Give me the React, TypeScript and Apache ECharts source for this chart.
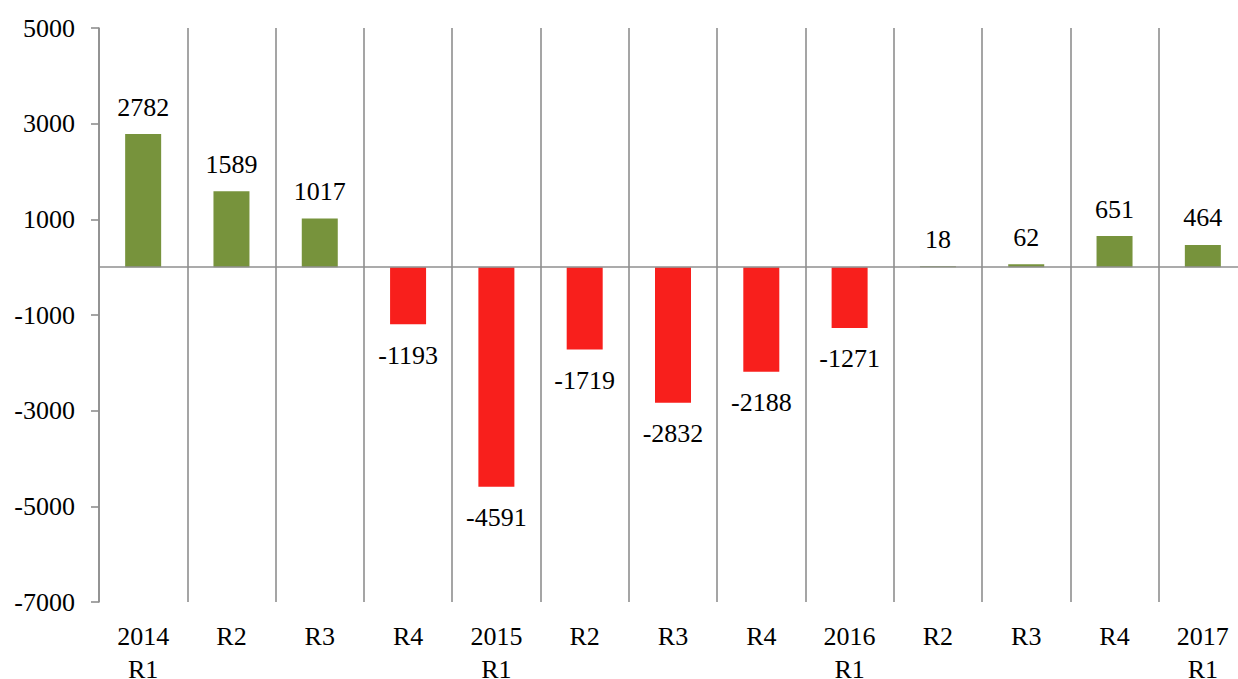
import React, { useEffect, useRef } from "react";
import * as echarts from "echarts";

const categories = ["2014\nR1", "R2", "R3", "R4", "2015\nR1", "R2", "R3", "R4", "2016\nR1", "R2", "R3", "R4", "2017\nR1"];
const values = [2782, 1589, 1017, -1193, -4591, -1719, -2832, -2188, -1271, 18, 62, 651, 464];
const yMin = -7000;
const yMax = 5000;
const yInterval = 2000;

const GREEN = "#77933C";
const RED = "#F81F1C";
const GRAY = "#8F8F8F";
const FONT = "Liberation Serif";

export default function App() {
  const ref = useRef<HTMLDivElement>(null);
  useEffect(() => {
    document.body.style.margin = "0";
    document.body.style.overflow = "hidden";
    if (!ref.current) return;
    const chart = echarts.init(ref.current, undefined, { renderer: "svg" });
    const data = values.map((v) => ({
      value: v,
      itemStyle: { color: v >= 0 ? GREEN : RED },
      label: {
        position: v >= 0 ? "top" : "bottom",
        distance: v >= 0 ? 14 : 18,
      },
    }));
    chart.setOption({
      animation: false,
      backgroundColor: "#ffffff",
      textStyle: { fontFamily: FONT },
      grid: {
        left: 99,
        top: 28,
        width: 1148,
        height: 574,
        containLabel: false,
        outerBoundsMode: "none",
      },
      xAxis: {
        type: "category",
        data: categories,
        position: "bottom",
        axisLine: { show: false },
        axisTick: { show: false },
        axisLabel: {
          color: "#000",
          fontFamily: FONT,
          fontSize: 26,
          lineHeight: 33,
          margin: 18,
          interval: 0,
        },
        splitLine: { show: true, interval: 0, lineStyle: { color: GRAY, width: 1.6 } },
      },
      yAxis: {
        type: "value",
        min: yMin,
        max: yMax,
        interval: yInterval,
        axisLine: { show: true, lineStyle: { color: GRAY, width: 1.6 } },
        axisTick: { show: true, length: 8, lineStyle: { color: GRAY, width: 1.6 } },
        splitLine: { show: false },
        axisLabel: {
          color: "#000",
          fontFamily: FONT,
          fontSize: 26,
          margin: 24,
          formatter: (v: number) => String(v),
        },
      },
      series: [
        {
          type: "bar",
          data,
          barWidth: 36,
          label: {
            show: true,
            color: "#000",
            fontFamily: FONT,
            fontSize: 26,
            formatter: (p: any) => String(p.value),
          },
          markLine: {
            silent: true,
            symbol: "none",
            label: { show: false },
            lineStyle: { color: GRAY, width: 1.6, type: "solid" },
            data: [{ yAxis: 0 }],
          },
        },
      ],
    });
    return () => chart.dispose();
  }, []);
  return (
    <div style={{ width: 1238, height: 679, overflow: "hidden", background: "#fff" }}>
      <div ref={ref} style={{ width: 1260, height: 679 }} />
    </div>
  );
}
